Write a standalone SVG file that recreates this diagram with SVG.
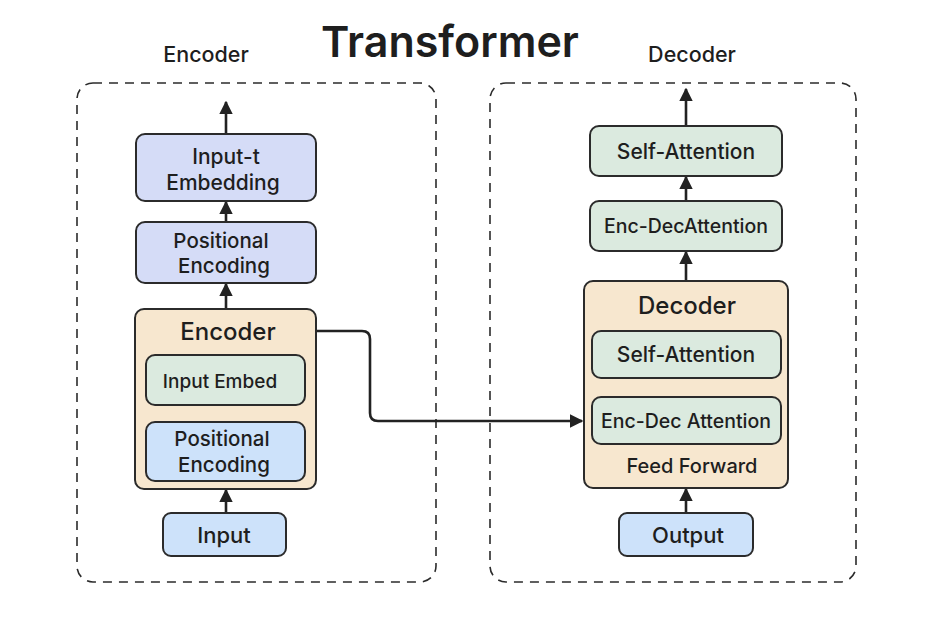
<svg xmlns="http://www.w3.org/2000/svg" width="936" height="624" viewBox="0 0 936 624">
<style>
text{font-family:Inter,"Noto Sans","Liberation Sans",sans-serif;fill:#1e1e1e;text-anchor:middle;font-weight:500}
.box{stroke:#2b2b2b;stroke-width:2}
.lav{fill:#d5dcf7}
.blue{fill:#cde2fa}
.mint{fill:#dbeadf}
.beige{fill:#f7e7cf}
.dash{fill:none;stroke:#2b2b2b;stroke-width:1.6;stroke-dasharray:9 7}
.conn{fill:none;stroke:#222;stroke-width:2.6}
.t{font-size:21px}
.h{font-size:24px}
</style>
<defs>
<marker id="ah" viewBox="0 0 10 10" refX="9" refY="5" markerWidth="5.2" markerHeight="5.2" orient="auto" markerUnits="strokeWidth">
<path d="M0,0 L10,5 L0,10 z" fill="#222"/>
</marker>
</defs>
<rect width="936" height="624" fill="#ffffff"/>
<text x="450" y="57" style="font-size:43px;font-weight:600">Transformer</text>
<text x="206" y="62" style="font-size:21.5px">Encoder</text>
<text x="692" y="62" style="font-size:21.5px">Decoder</text>
<rect class="dash" x="77" y="83" width="359" height="499" rx="16"/>
<rect class="dash" x="490" y="83" width="366" height="499" rx="16"/>
<g id="connectors">
<line class="conn" x1="226" y1="134" x2="226" y2="102" marker-end="url(#ah)"/>
<line class="conn" x1="226" y1="222" x2="226" y2="202" marker-end="url(#ah)"/>
<line class="conn" x1="226" y1="309" x2="226" y2="284" marker-end="url(#ah)"/>
<line class="conn" x1="226" y1="405" x2="226" y2="422"/>
<line class="conn" x1="226" y1="513" x2="226" y2="490" marker-end="url(#ah)"/>
<path class="conn" d="M316,331 H362 Q370,331 370,339 V413 Q370,421 378,421 H582" marker-end="url(#ah)"/>
<line class="conn" x1="686" y1="126" x2="686" y2="89" marker-end="url(#ah)"/>
<line class="conn" x1="686" y1="201" x2="686" y2="177" marker-end="url(#ah)"/>
<line class="conn" x1="686" y1="281" x2="686" y2="252" marker-end="url(#ah)"/>
<line class="conn" x1="686" y1="397" x2="686" y2="379" marker-end="url(#ah)"/>
<line class="conn" x1="686" y1="513" x2="686" y2="489" marker-end="url(#ah)"/>
</g>
<g id="enc-input-t-embedding">
<rect class="box lav" x="136" y="134" width="180" height="67" rx="9"/>
<text class="t" x="226" y="164" style="font-size:21px">Input-t</text>
<text class="t" x="223" y="190" style="font-size:21px">Embedding</text>
</g>
<g id="enc-positional-encoding-top">
<rect class="box lav" x="136" y="222" width="180" height="61" rx="9"/>
<text class="t" x="221" y="248" style="font-size:20.5px">Positional</text>
<text class="t" x="224" y="273" style="font-size:20.5px">Encoding</text>
</g>
<g id="encoder">
<rect class="box beige" x="135" y="309" width="181" height="180" rx="9"/>
<text class="h" x="228" y="340">Encoder</text>
</g>
<g id="enc-input-embed">
<rect class="box mint" x="146" y="355" width="159" height="50" rx="9"/>
<text class="t" x="220" y="388" style="font-size:19px">Input Embed</text>
</g>
<g id="enc-positional-encoding">
<rect class="box blue" x="146" y="422" width="159" height="59" rx="9"/>
<text class="t" x="222" y="446" style="font-size:20.5px">Positional</text>
<text class="t" x="224" y="472" style="font-size:20.5px">Encoding</text>
</g>
<g id="input">
<rect class="box blue" x="163" y="513" width="123" height="43" rx="8"/>
<text class="t" x="224" y="543" style="font-size:22px">Input</text>
</g>
<g id="dec-self-attention-top">
<rect class="box mint" x="590" y="126" width="192" height="50" rx="9"/>
<text class="t" x="686" y="159" style="font-size:21px">Self-Attention</text>
</g>
<g id="dec-enc-dec-attention-top">
<rect class="box mint" x="590" y="201" width="192" height="50" rx="9"/>
<text class="t" x="686" y="233" style="font-size:19.5px">Enc-DecAttention</text>
</g>
<g id="decoder">
<rect class="box beige" x="584" y="281" width="204" height="207" rx="9"/>
<text class="h" x="687" y="314">Decoder</text>
<text class="t" x="692" y="473" style="font-size:20px">Feed Forward</text>
</g>
<g id="dec-self-attention">
<rect class="box mint" x="592" y="331" width="189" height="47" rx="9"/>
<text class="t" x="686" y="362" style="font-size:21px">Self-Attention</text>
</g>
<g id="dec-enc-dec-attention">
<rect class="box mint" x="592" y="397" width="189" height="47" rx="9"/>
<text class="t" x="686" y="428" style="font-size:19.5px">Enc-Dec Attention</text>
</g>
<g id="output">
<rect class="box blue" x="619" y="513" width="134" height="43" rx="8"/>
<text class="t" x="688" y="543" style="font-size:22px">Output</text>
</g>
</svg>
